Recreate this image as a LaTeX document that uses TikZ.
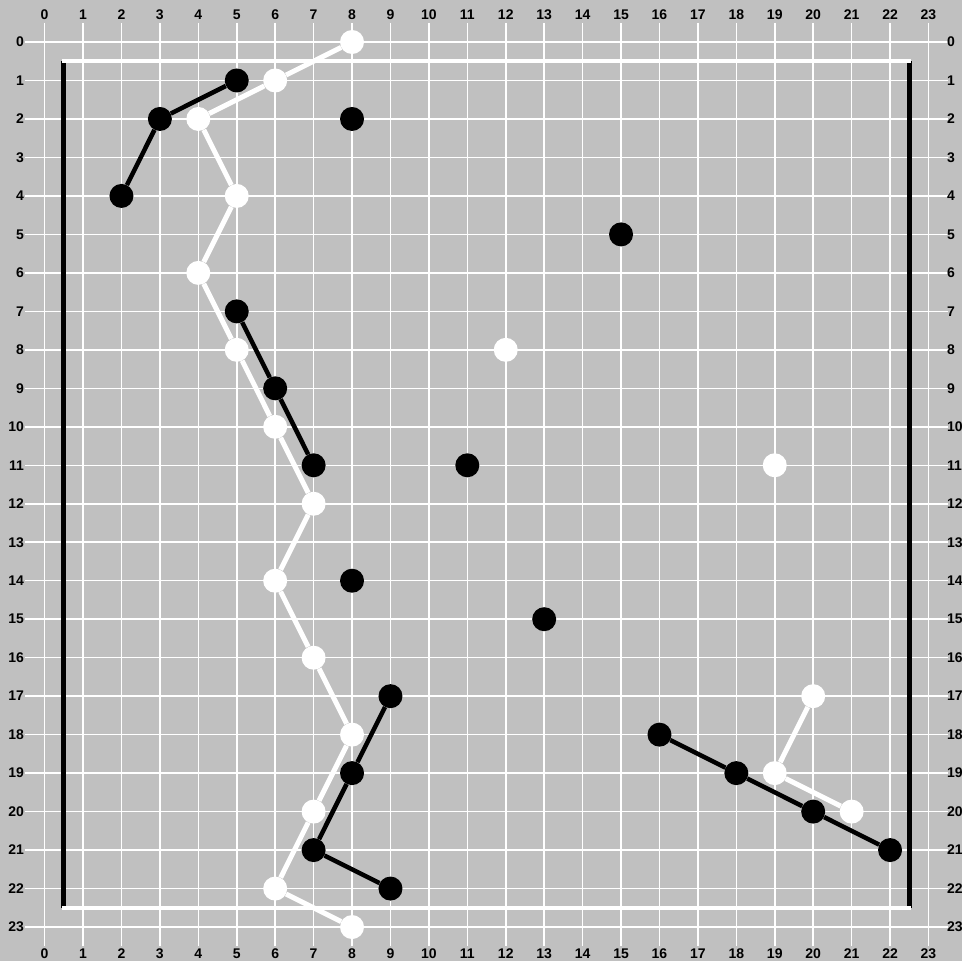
\documentclass[tikz,border=0pt]{standalone}
\usepackage{fontspec}
\setmainfont{Liberation Sans}
\pgfdeclarelayer{bg}
\pgfsetlayers{bg,main}
\definecolor{boardgray}{HTML}{C0C0C0}
\begin{document}
\begin{tikzpicture}[x=1pt,y=-1pt,
  gridline/.style={draw=white,line width=1.5pt},
  wstone/.style={circle,fill=white,minimum size=24pt,inner sep=0pt},
  bstone/.style={circle,fill=black,minimum size=24pt,inner sep=0pt},
  wline/.style={draw=white,line width=5pt},
  bline/.style={draw=black,line width=4.5pt},
  wborder/.style={draw=white,line width=4pt,line cap=rect},
  bborder/.style={draw=black,line width=5pt},
  lbl/.style={font=\fontsize{14}{14}\selectfont\bfseries,inner sep=0pt,text=black}]
\useasboundingbox (0,0) rectangle (962,961);
\begin{scope}[shift={(44.6,42)},x=38.43pt,y=-38.48pt]
  % labels
  \foreach \i in {0,...,23}{
    \node[lbl] (lt\i) at (\i,-0.70) {\i};
    \node[lbl] (lb\i) at (\i,23.69) {\i};
    \node[lbl,anchor=east] (ll\i) at (-0.53,\i) {\i};
    \node[lbl,anchor=west] (lr\i) at (23.48,\i) {\i};
  }
  % boundary corners
  \coordinate (c1) at (0.5,0.5);
  \coordinate (c2) at (22.5,0.5);
  \coordinate (c3) at (22.5,22.5);
  \coordinate (c4) at (0.5,22.5);
  % white stones
  \foreach \n/\x/\y in {w0/8/0,w1/6/1,w2/4/2,w3/5/4,w4/4/6,w5/5/8,w6/6/10,w7/7/12,w8/6/14,w9/7/16,w10/8/18,w11/7/20,w12/6/22,w13/8/23,wa/12/8,wb/19/11,wc1/20/17,wc2/19/19,wc3/21/20}
    \node[wstone] (\n) at (\x,\y) {};
  % black stones
  \foreach \n/\x/\y in {ba1/5/1,ba2/3/2,ba3/2/4,bb1/5/7,bb2/6/9,bb3/7/11,bc1/9/17,bc2/8/19,bc3/7/21,bc4/9/22,bd1/16/18,bd2/18/19,bd3/20/20,bd4/22/21,be1/8/2,be2/15/5,be3/11/11,be4/8/14,be5/13/15}
    \node[bstone] (\n) at (\x,\y) {};
  \begin{pgfonlayer}{bg}
    \fill[boardgray] (-44.6pt,42pt) rectangle (917.4pt,-919pt);
    \foreach \i in {0,...,23}{
      \draw[gridline] (\i,-0.5) -- (\i,23.5);
      \draw[gridline] (-0.5,\i) -- (23.5,\i);
    }
    \draw[bborder] (c1) -- (c4);
    \draw[bborder] (c2) -- (c3);
    \draw[wborder] (c1) -- (c2);
    \draw[wborder] (c4) -- (c3);
    \draw[wline] (w0) -- (w1) -- (w2) -- (w3) -- (w4) -- (w5) -- (w6) -- (w7) -- (w8) -- (w9) -- (w10) -- (w11) -- (w12) -- (w13);
    \draw[wline] (wc1) -- (wc2) -- (wc3);
    \draw[bline] (ba1) -- (ba2) -- (ba3);
    \draw[bline] (bb1) -- (bb2) -- (bb3);
    \draw[bline] (bc1) -- (bc2) -- (bc3) -- (bc4);
    \draw[bline] (bd1) -- (bd2) -- (bd3) -- (bd4);
  \end{pgfonlayer}
\end{scope}
\end{tikzpicture}
\end{document}
